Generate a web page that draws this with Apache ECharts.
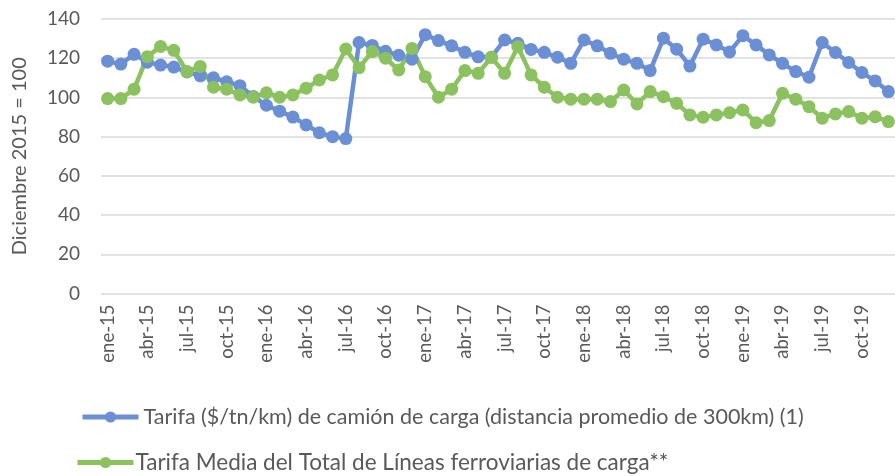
<!DOCTYPE html>
<html><head><meta charset="utf-8">
<script src="https://cdn.jsdelivr.net/npm/echarts@6/dist/echarts.min.js"></script>
<style>html,body{margin:0;padding:0;background:#fff}#c{width:895px;height:476px}</style>
</head><body><div id="c"></div>
<script>
const monthNames = ['ene','feb','mar','abr','may','jun','jul','ago','sep','oct','nov','dic'];
const years = ['15','16','17','18','19'];
const categories = [];
years.forEach(y => monthNames.forEach(m => categories.push(m + '-' + y)));

const camionName = 'Tarifa ($/tn/km) de camión de carga (distancia promedio de 300km) (1)';
const ferroName = 'Tarifa Media del Total de Líneas ferroviarias de carga**';

const camion = [
  118.5, 117, 122, 118, 116.5, 115.5, 113, 111, 110, 108, 106, 100.5,
  96, 93, 90, 86, 82, 80, 79, 128, 126.5, 123.5, 121.5, 119.5,
  132, 129, 126.3, 123, 120.7, 120.5, 129.3, 127.6, 124.5, 123, 120.5, 117.4,
  129.3, 126.3, 122.5, 119.5, 117.4, 113.7, 130.2, 124.6, 116, 129.7, 126.8, 123.2,
  131.5, 126.8, 121.7, 117.4, 113.2, 110.3, 128, 122.9, 117.8, 112.7, 108.4, 103
];
const ferro = [
  99.4, 99.4, 104.2, 120.8, 126, 124, 113.2, 115.8, 105.2, 104.2, 101.3, 100.1,
  102.4, 100.1, 101.3, 104.7, 108.9, 111.5, 124.7, 115.2, 123.4, 120, 114, 125,
  110.6, 100.1, 104.2, 113.7, 112.3, 120.5, 112.3, 125.9, 111.5, 105.2, 100.1, 99.1,
  99.1, 99.1, 97.9, 103.8, 96.7, 103, 100.4, 97, 91.1, 89.9, 91.1, 92.2,
  93.6, 87.1, 88.2, 102.1, 99.1, 95.3, 89.4, 91.6, 92.8, 89.4, 90.2, 87.7
];

const yTicks = { min: 0, max: 140, interval: 20 };
const txt = '#595959';
const font = 'Lato, "Open Sans", sans-serif';

const chart = echarts.init(document.getElementById('c'), null, {renderer: 'canvas'});
chart.setOption({
  animation: false,
  textStyle: { fontFamily: font },
  grid: { left: 101, top: 19, width: 798, height: 274.5, containLabel: false },
  legend: [
    { data: [camionName], left: 75, top: 401, itemWidth: 56, itemHeight: 14, itemGap: 0,
      lineStyle: { width: 5 },
      textStyle: { color: txt, fontSize: 21.5, fontFamily: font, padding: [0,0,0,0] } },
    { data: [ferroName], left: 70, top: 446, itemWidth: 56, itemHeight: 14, itemGap: 0,
      lineStyle: { width: 5 },
      textStyle: { color: txt, fontSize: 22.5, fontFamily: font, padding: [0,0,0,-3] } }
  ],
  xAxis: {
    type: 'category', data: categories, boundaryGap: true,
    axisLine: { show: false }, axisTick: { show: false },
    axisLabel: { interval: 2, rotate: 90, color: txt, fontSize: 18.5, margin: 11, fontFamily: font }
  },
  yAxis: {
    type: 'value', min: yTicks.min, max: yTicks.max, interval: yTicks.interval,
    name: 'Diciembre 2015 = 100', nameLocation: 'middle', nameGap: 71, nameRotate: 90,
    nameTextStyle: { color: txt, fontSize: 20, fontFamily: font },
    axisLine: { show: false }, axisTick: { show: false },
    axisLabel: { color: txt, fontSize: 19, margin: 21, fontFamily: font },
    splitLine: { lineStyle: { color: '#d9d9d9', width: 1.5 } }
  },
  series: [
    { name: camionName, type: 'line', data: camion, symbol: 'circle', symbolSize: 13, showAllSymbol: true,
      itemStyle: { color: '#6a8fd4' }, lineStyle: { color: '#6a8fd4', width: 4.5 } },
    { name: ferroName, type: 'line', data: ferro, symbol: 'circle', symbolSize: 13, showAllSymbol: true,
      itemStyle: { color: '#8cc160' }, lineStyle: { color: '#8cc160', width: 4.5 } }
  ]
});
</script></body></html>
